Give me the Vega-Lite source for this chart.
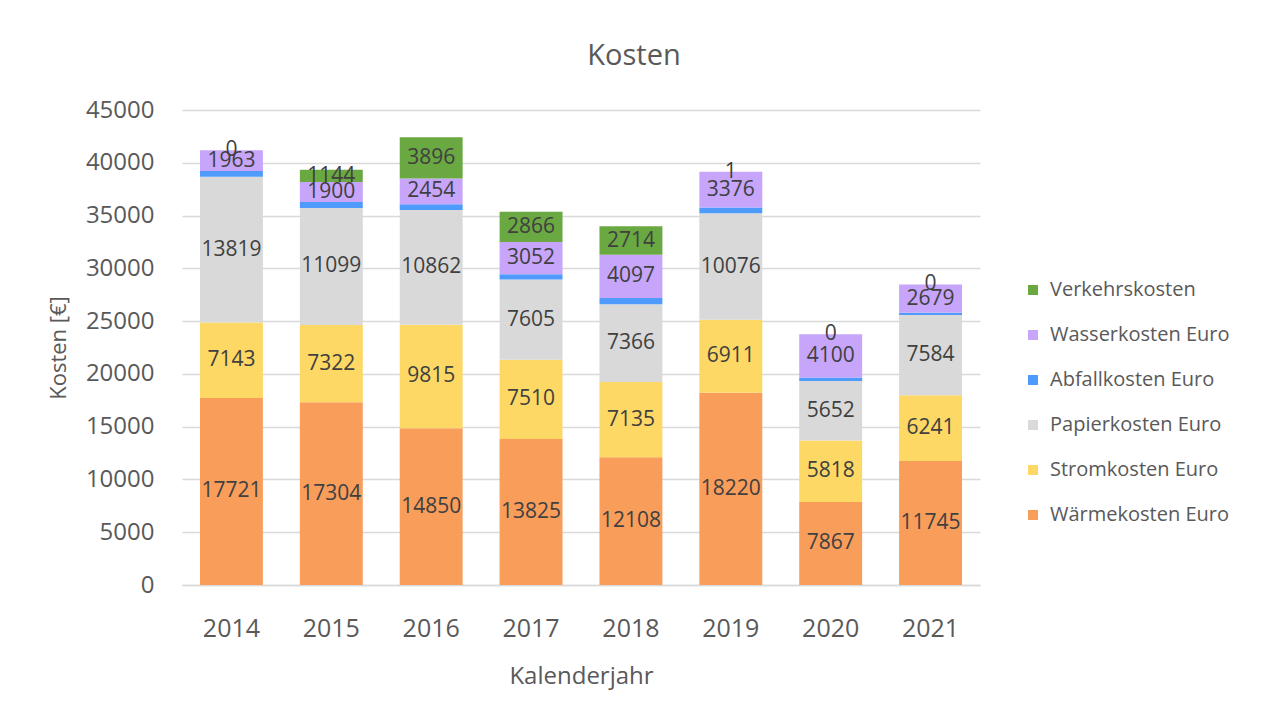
{
  "$schema": "https://vega.github.io/schema/vega-lite/v6.json",
  "width": 798,
  "height": 475,
  "autosize": {"type": "none"},
  "padding": {"left": 182, "top": 110, "right": 286, "bottom": 135},
  "background": "white",
  "config": {"font": "Open Sans", "view": {"stroke": null}},
  "title": {"text": "Kosten", "fontSize": 29, "fontWeight": "normal", "color": "#595959", "anchor": "middle", "dx": 53, "offset": 27},
  "data": {"values": [
    {"year": "2014", "cat": "Wärmekosten Euro", "o": 1, "value": 17721},
    {"year": "2014", "cat": "Stromkosten Euro", "o": 2, "value": 7143},
    {"year": "2014", "cat": "Papierkosten Euro", "o": 3, "value": 13819},
    {"year": "2014", "cat": "Abfallkosten Euro", "o": 4, "value": 540},
    {"year": "2014", "cat": "Wasserkosten Euro", "o": 5, "value": 1963},
    {"year": "2014", "cat": "Verkehrskosten", "o": 6, "value": 0},
    {"year": "2015", "cat": "Wärmekosten Euro", "o": 1, "value": 17304},
    {"year": "2015", "cat": "Stromkosten Euro", "o": 2, "value": 7322},
    {"year": "2015", "cat": "Papierkosten Euro", "o": 3, "value": 11099},
    {"year": "2015", "cat": "Abfallkosten Euro", "o": 4, "value": 560},
    {"year": "2015", "cat": "Wasserkosten Euro", "o": 5, "value": 1900},
    {"year": "2015", "cat": "Verkehrskosten", "o": 6, "value": 1144},
    {"year": "2016", "cat": "Wärmekosten Euro", "o": 1, "value": 14850},
    {"year": "2016", "cat": "Stromkosten Euro", "o": 2, "value": 9815},
    {"year": "2016", "cat": "Papierkosten Euro", "o": 3, "value": 10862},
    {"year": "2016", "cat": "Abfallkosten Euro", "o": 4, "value": 540},
    {"year": "2016", "cat": "Wasserkosten Euro", "o": 5, "value": 2454},
    {"year": "2016", "cat": "Verkehrskosten", "o": 6, "value": 3896},
    {"year": "2017", "cat": "Wärmekosten Euro", "o": 1, "value": 13825},
    {"year": "2017", "cat": "Stromkosten Euro", "o": 2, "value": 7510},
    {"year": "2017", "cat": "Papierkosten Euro", "o": 3, "value": 7605},
    {"year": "2017", "cat": "Abfallkosten Euro", "o": 4, "value": 500},
    {"year": "2017", "cat": "Wasserkosten Euro", "o": 5, "value": 3052},
    {"year": "2017", "cat": "Verkehrskosten", "o": 6, "value": 2866},
    {"year": "2018", "cat": "Wärmekosten Euro", "o": 1, "value": 12108},
    {"year": "2018", "cat": "Stromkosten Euro", "o": 2, "value": 7135},
    {"year": "2018", "cat": "Papierkosten Euro", "o": 3, "value": 7366},
    {"year": "2018", "cat": "Abfallkosten Euro", "o": 4, "value": 570},
    {"year": "2018", "cat": "Wasserkosten Euro", "o": 5, "value": 4097},
    {"year": "2018", "cat": "Verkehrskosten", "o": 6, "value": 2714},
    {"year": "2019", "cat": "Wärmekosten Euro", "o": 1, "value": 18220},
    {"year": "2019", "cat": "Stromkosten Euro", "o": 2, "value": 6911},
    {"year": "2019", "cat": "Papierkosten Euro", "o": 3, "value": 10076},
    {"year": "2019", "cat": "Abfallkosten Euro", "o": 4, "value": 560},
    {"year": "2019", "cat": "Wasserkosten Euro", "o": 5, "value": 3376},
    {"year": "2019", "cat": "Verkehrskosten", "o": 6, "value": 1},
    {"year": "2020", "cat": "Wärmekosten Euro", "o": 1, "value": 7867},
    {"year": "2020", "cat": "Stromkosten Euro", "o": 2, "value": 5818},
    {"year": "2020", "cat": "Papierkosten Euro", "o": 3, "value": 5652},
    {"year": "2020", "cat": "Abfallkosten Euro", "o": 4, "value": 320},
    {"year": "2020", "cat": "Wasserkosten Euro", "o": 5, "value": 4100},
    {"year": "2020", "cat": "Verkehrskosten", "o": 6, "value": 0},
    {"year": "2021", "cat": "Wärmekosten Euro", "o": 1, "value": 11745},
    {"year": "2021", "cat": "Stromkosten Euro", "o": 2, "value": 6241},
    {"year": "2021", "cat": "Papierkosten Euro", "o": 3, "value": 7584},
    {"year": "2021", "cat": "Abfallkosten Euro", "o": 4, "value": 230},
    {"year": "2021", "cat": "Wasserkosten Euro", "o": 5, "value": 2679},
    {"year": "2021", "cat": "Verkehrskosten", "o": 6, "value": 0}
  ]},
  "transform": [
    {"stack": "value", "groupby": ["year"], "sort": [{"field": "o", "order": "ascending"}], "as": ["v0", "v1"]},
    {"calculate": "(datum.v0 + datum.v1) / 2", "as": "mid"}
  ],
  "encoding": {
    "x": {
      "field": "year", "type": "ordinal",
      "scale": {"paddingInner": 0.37, "paddingOuter": 0.18},
      "axis": {"title": "Kalenderjahr", "labelAngle": 0, "labelFontSize": 25, "titleFontSize": 24, "titleFontWeight": "normal", "labelColor": "#595959", "titleColor": "#595959", "ticks": false, "domainColor": "#D9D9D9", "domainWidth": 1.5, "labelPadding": 31, "titlePadding": 23}
    }
  },
  "layer": [
    {
      "mark": {"type": "bar"},
      "encoding": {
        "y": {
          "field": "v0", "type": "quantitative",
          "scale": {"domain": [0, 45000], "nice": false},
          "axis": {"title": "Kosten [€]", "values": [0, 5000, 10000, 15000, 20000, 25000, 30000, 35000, 40000, 45000], "format": "d", "grid": true, "gridColor": "#D9D9D9", "gridWidth": 1.5, "domain": false, "ticks": false, "labelFontSize": 24, "labelColor": "#595959", "labelPadding": 28, "titleFontSize": 22, "titleFontWeight": "normal", "titleColor": "#595959", "titlePadding": 15}
        },
        "y2": {"field": "v1"},
        "color": {
          "field": "cat", "type": "nominal",
          "scale": {
            "domain": ["Verkehrskosten", "Wasserkosten Euro", "Abfallkosten Euro", "Papierkosten Euro", "Stromkosten Euro", "Wärmekosten Euro"],
            "range": ["#6AA842", "#C6A5FA", "#4F9BFB", "#D9D9D9", "#FDD865", "#F99D5B"]
          },
          "legend": {"title": null, "orient": "none", "legendX": 841, "legendY": 170, "symbolType": "square", "symbolSize": 100, "symbolStrokeWidth": 0, "labelFontSize": 20, "labelColor": "#595959", "labelLimit": 400, "rowPadding": 25, "labelOffset": 7, "padding": 0}
        }
      }
    },
    {
      "transform": [{"filter": "datum.cat !== 'Abfallkosten Euro'"}],
      "mark": {"type": "text", "fontSize": 21, "color": "#404040", "baseline": "middle", "align": "center"},
      "encoding": {
        "y": {"field": "mid", "type": "quantitative"},
        "text": {"field": "value", "type": "quantitative", "format": "d"}
      }
    }
  ]
}
